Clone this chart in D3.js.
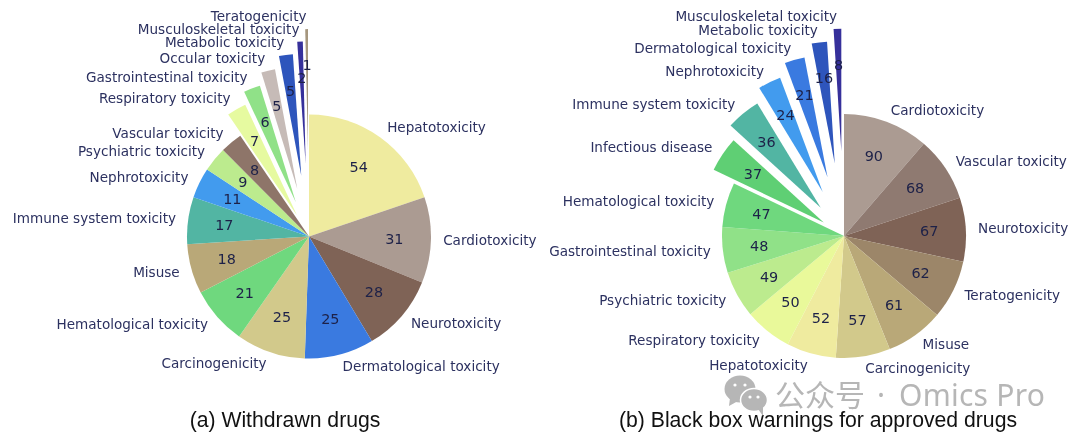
<!DOCTYPE html>
<html><head><meta charset="utf-8">
<script src="https://cdn.jsdelivr.net/npm/d3@7"></script>
<style>html,body{margin:0;padding:0;background:#fff;overflow:hidden}svg{display:block;filter:blur(.4px)}</style>
</head><body><svg id="c" width="1080" height="439"></svg>
<script>
const labelsA=["Hepatotoxicity","Cardiotoxicity","Neurotoxicity","Dermatological toxicity","Carcinogenicity","Hematological toxicity","Misuse","Immune system toxicity","Nephrotoxicity","Psychiatric toxicity","Vascular toxicity","Respiratory toxicity","Gastrointestinal toxicity","Occular toxicity","Metabolic toxicity","Musculoskeletal toxicity","Teratogenicity"];
const valuesA=[54,31,28,25,25,21,18,17,11,9,8,7,6,5,5,2,1];
const explodeA=[0,0,0,0,0,0,0,0,0,0,0,.2,.3,.4,.5,.6,.7];
const colorsA=["#EFEB9F","#AB9B92","#7F6356","#3A7AE0","#D2C98B","#6FD87E","#B9A878","#52B5A3","#429BEE","#BCEB8E","#8E7569","#E6FAA0","#90E188","#C6BBB7","#2E55BC","#36309B","#A5967E"];
const labelsB=["Cardiotoxicity","Vascular toxicity","Neurotoxicity","Teratogenicity","Misuse","Carcinogenicity","Hepatotoxicity","Respiratory toxicity","Psychiatric toxicity","Gastrointestinal toxicity","Hematological toxicity","Infectious disease","Immune system toxicity","Nephrotoxicity","Dermatological toxicity","Metabolic toxicity","Musculoskeletal toxicity"];
const valuesB=[90,68,67,62,61,57,52,50,49,48,47,37,36,24,21,16,8];
const explodeB=[0,0,0,0,0,0,0,0,0,0,0,.2,.3,.4,.5,.6,.7];
const colorsB=["#AB9B92","#8F7A71","#7F6356","#9C8669","#B9A878","#D2C98B","#EFEB9F","#E9F99A","#BCEB8E","#90E188","#6FD87E","#5FCF74","#52B5A3","#429BEE","#3A7AE0","#2E55BC","#36309B"];
const svg=d3.select("#c");
const R=122;
function pie(cx,cy,labels,values,explode,colors){
  const g=svg.append("g").attr("transform",`translate(${cx},${cy})`);
  const arcs=d3.pie().sort(null)(values);
  const arc=d3.arc().innerRadius(0).outerRadius(R);
  const num=d3.scaleLinear().domain([0,1]).range([0,R]);
  arcs.forEach((a,i)=>{
    const m=(a.startAngle+a.endAngle)/2, s=Math.sin(m), c=Math.cos(m), e=num(explode[i]);
    g.append("path").attr("d",arc(a)).attr("fill",colors[i]).attr("transform",`translate(${s*e},${-c*e})`);
    const lr=num(1.1)+e, pr=num(.7)+e;
    g.append("text").attr("x",s*lr).attr("y",-c*lr).attr("text-anchor",s>0?"start":"end").attr("dy",".33em")
      .attr("font-family","DejaVu Sans").attr("font-size",13.57).attr("fill","#2C3160").text(labels[i]);
    g.append("text").attr("x",s*pr).attr("y",-c*pr).attr("text-anchor","middle").attr("dy",".33em")
      .attr("font-family","DejaVu Sans").attr("font-size",14.4).attr("fill","#1D2148").text(values[i]);
  });
}
pie(309,236.5,labelsA,valuesA,explodeA,colorsA);
pie(844,236,labelsB,valuesB,explodeB,colorsB);
const title=(x,t)=>svg.append("text").attr("x",x).attr("y",427).attr("text-anchor","middle").attr("font-family","Liberation Sans").attr("font-size",21.2).attr("fill","#111").text(t);
title(285,"(a) Withdrawn drugs");
title(818,"(b) Black box warnings for approved drugs");
// watermark
const wm=svg.append("g").attr("fill","#b6b6b6");
wm.append("ellipse").attr("cx",740).attr("cy",389).attr("rx",15.5).attr("ry",13.5);
wm.append("path").attr("d","M730 398 L729 406 L738 401 Z");
wm.append("ellipse").attr("cx",754).attr("cy",400).attr("rx",13.5).attr("ry",11.5).attr("stroke","#fff").attr("stroke-width",1.5);
wm.append("path").attr("d","M758 409 L763 416 L763 406 Z");
[[735,385],[745,385],[750,397],[758,397]].forEach(p=>wm.append("circle").attr("cx",p[0]).attr("cy",p[1]).attr("r",1.6).attr("fill","#fff"));
wm.append("text").attr("x",775).attr("y",406).attr("font-family","Noto Sans CJK SC").attr("font-size",30).text("公众号");
wm.append("text").attr("x",881).attr("y",406).attr("text-anchor","middle").attr("font-family","Noto Sans").attr("font-size",30).text("·");
wm.append("text").attr("x",899).attr("y",406).attr("font-family","Noto Sans").attr("font-size",30).attr("letter-spacing",.25).text("Omics Pro");
</script></body></html>
